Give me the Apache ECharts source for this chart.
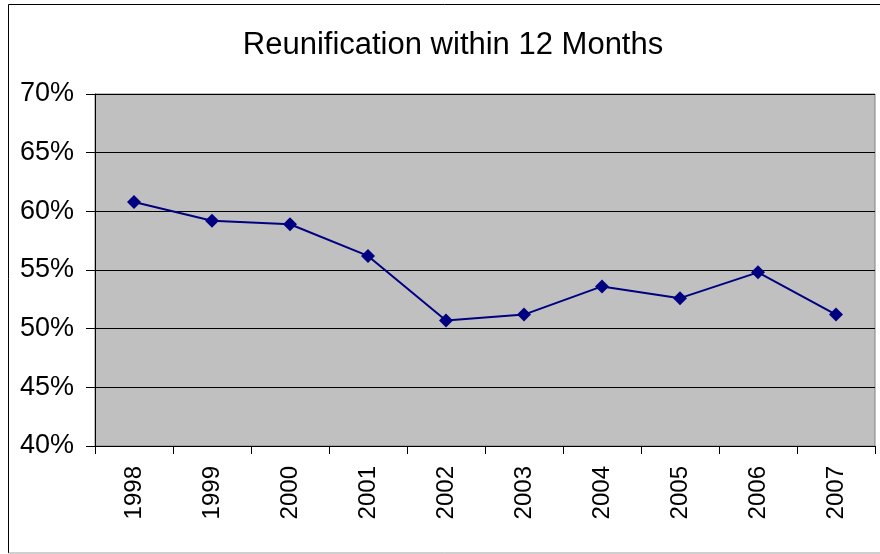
<!DOCTYPE html>
<html>
<head>
<meta charset="utf-8">
<script src="https://cdn.jsdelivr.net/npm/echarts@6/dist/echarts.min.js"></script>
<style>
  html, body { margin: 0; padding: 0; background: #fff; }
  #chart { width: 880px; height: 554px; }
</style>
</head>
<body>
<div id="chart"></div>
<script>
// data
const years = ['1998', '1999', '2000', '2001', '2002', '2003', '2004', '2005', '2006', '2007']
const reunification = [60.8, 59.2, 58.9, 56.2, 50.7, 51.2, 53.6, 52.6, 54.8, 51.2]
const titleText = 'Reunification within 12 Months'

const chart = echarts.init(document.getElementById('chart'), null, { renderer: 'canvas' })

const font = 'Liberation Sans, Arial, sans-serif'

const option = {
  animation: false,
  backgroundColor: '#ffffff',
  title: {
    text: titleText,
    left: 448,
    top: 25,
    textAlign: 'center',
    textStyle: {
      fontFamily: font,
      fontSize: 31,
      fontWeight: 'normal',
      color: '#000'
    }
  },
  grid: {
    left: 95,
    top: 94,
    width: 780,
    height: 352,
    show: true,
    backgroundColor: '#c0c0c0',
    borderColor: '#808080',
    borderWidth: 1
  },
  xAxis: {
    type: 'category',
    data: years,
    boundaryGap: true,
    axisLine: { show: true, lineStyle: { color: '#000', width: 1 } },
    axisTick: { show: true, length: 8, lineStyle: { color: '#000' } },
    axisLabel: {
      rotate: 90,
      margin: 20,
      fontFamily: font,
      fontSize: 24,
      color: '#000'
    }
  },
  yAxis: {
    type: 'value',
    min: 40,
    max: 70,
    interval: 5,
    axisLine: { show: true, lineStyle: { color: '#000', width: 1 } },
    axisTick: { show: true, length: 9, lineStyle: { color: '#000' } },
    splitLine: { show: true, lineStyle: { color: '#000', width: 1 } },
    axisLabel: {
      formatter: '{value}%',
      margin: 21,
      fontFamily: font,
      fontSize: 27,
      color: '#000'
    }
  },
  series: [
    {
      type: 'line',
      data: reunification,
      symbol: 'diamond',
      symbolSize: 14,
      lineStyle: { color: '#000080', width: 2 },
      itemStyle: { color: '#000080' }
    }
  ],
  graphic: [
    // chart area border
    { type: 'line', shape: { x1: 8.5, y1: 4.5, x2: 880, y2: 4.5 }, style: { stroke: '#000', lineWidth: 1 } },
    { type: 'line', shape: { x1: 8.5, y1: 4.5, x2: 8.5, y2: 553 }, style: { stroke: '#000', lineWidth: 1 } },
    { type: 'line', shape: { x1: 8.5, y1: 553, x2: 880, y2: 553 }, style: { stroke: '#a0a0a0', lineWidth: 1 } }
  ]
}

chart.setOption(option)
</script>
</body>
</html>
